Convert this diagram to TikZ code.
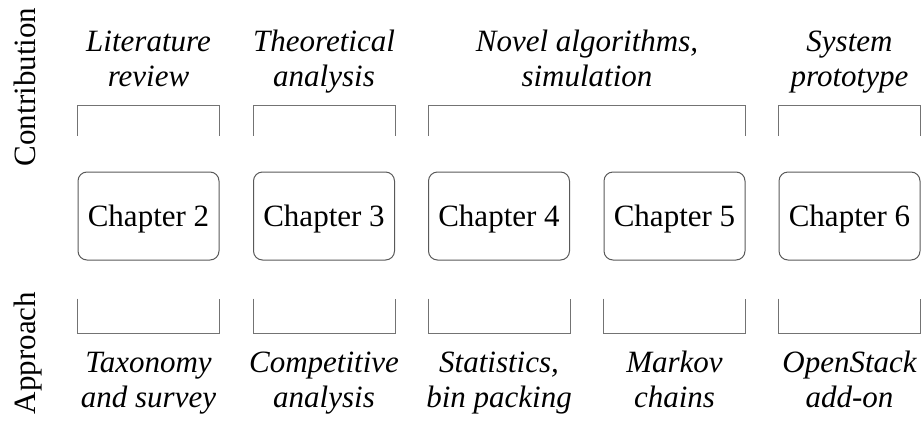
\documentclass[tikz,border=0pt]{standalone}
\usepackage{fontspec}
\setmainfont{Liberation Serif}
\usetikzlibrary{calc}
\begin{document}
\begin{tikzpicture}[x=1pt,y=-1pt,
  chapbox/.style={draw=black!65, line width=1pt, rounded corners=9pt,
    minimum width=141pt, minimum height=88pt, inner sep=0pt, text depth=0pt,
    font=\fontsize{31}{36}\selectfont},
  lbl/.style={align=center, inner sep=0pt, anchor=base,
    font=\fontsize{31}{35}\selectfont\itshape},
  side/.style={rotate=90, inner sep=0pt, anchor=base,
    font=\fontsize{31}{36}\selectfont},
  brk/.style={draw=black!55, line width=1pt}]
\useasboundingbox (0,0) rectangle (921,421);

% chapter boxes
\node[chapbox] (ch2) at (148.5,216) {Chapter 2};
\node[chapbox] (ch3) at (324,216) {Chapter 3};
\node[chapbox] (ch4) at (499,216) {Chapter 4};
\node[chapbox] (ch5) at (674.5,216) {Chapter 5};
\node[chapbox] (ch6) at (849.5,216) {Chapter 6};

% side labels
\node[side] (contrib) at (35,87) {Contribution};
\node[side] (approach) at (35,353) {Approach};

% top brackets
\draw[brk] ([yshift=36pt]ch2.north west) -- ([yshift=66pt]ch2.north west) -- ([yshift=66pt]ch2.north east) -- ([yshift=36pt]ch2.north east);
\draw[brk] ([yshift=36pt]ch3.north west) -- ([yshift=66pt]ch3.north west) -- ([yshift=66pt]ch3.north east) -- ([yshift=36pt]ch3.north east);
\draw[brk] ([yshift=36pt]ch4.north west) -- ([yshift=66pt]ch4.north west) -- ([yshift=66pt]ch5.north east) -- ([yshift=36pt]ch5.north east);
\draw[brk] ([yshift=36pt]ch6.north west) -- ([yshift=66pt]ch6.north west) -- ([yshift=66pt]ch6.north east) -- ([yshift=36pt]ch6.north east);

% bottom brackets
\foreach \c in {ch2,ch3,ch4,ch5,ch6}{
  \draw[brk] ([yshift=-38pt]\c.south west) -- ([yshift=-73pt]\c.south west) -- ([yshift=-73pt]\c.south east) -- ([yshift=-38pt]\c.south east);
}

% top labels
\node[lbl] (t2) at (148.5,86) {Literature\\review};
\node[lbl] (t3) at (324,86) {Theoretical\\analysis};
\node[lbl] (t45) at (587,86) {Novel algorithms,\\simulation};
\node[lbl] (t6) at (849.5,86) {System\\prototype};

% bottom labels
\node[lbl] (b2) at (148.5,407) {Taxonomy\\and survey};
\node[lbl] (b3) at (324,407) {Competitive\\analysis};
\node[lbl] (b4) at (499,407) {Statistics,\\bin packing};
\node[lbl] (b5) at (674.5,407) {Markov\\chains};
\node[lbl] (b6) at (849.5,407) {OpenStack\\add-on};
\end{tikzpicture}
\end{document}
